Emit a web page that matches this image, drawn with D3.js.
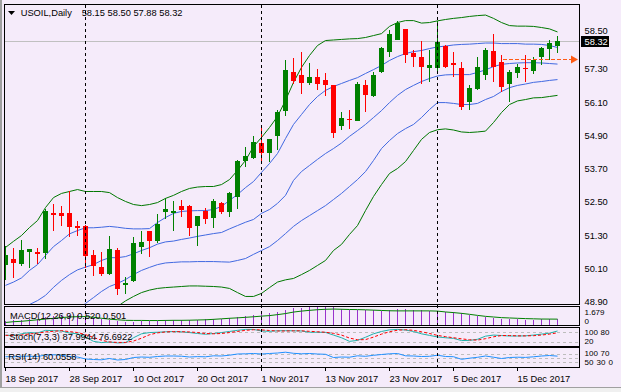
<!DOCTYPE html>
<html><head><meta charset="utf-8">
<script src="https://cdn.jsdelivr.net/npm/d3@7/dist/d3.min.js"></script>
<style>
body{margin:0;background:#fff}
svg{display:block}
text{font-family:"Liberation Sans",Arial,sans-serif;font-size:9.3px;fill:#000}
text.sm{font-size:8px}
</style></head>
<body><svg id="c" width="621" height="392"></svg>
<script>
// ---------- DATA ----------
const symbol = "USOIL,Daily";
const headerOHLC = "58.15 58.50 57.88 58.32";
const open  = [50.21,50.43,50.24,50.69,50.71,50.65,52.12,52.12,52.12,51.62,51.65,50.57,50.14,49.88,50.75,49.50,49.63,50.90,51.44,51.07,52.13,52.13,52.37,52.37,51.62,52.16,51.95,52.48,52.16,52.67,53.97,54.06,54.62,54.26,54.88,55.78,57.21,57.07,56.83,57.03,56.89,56.71,55.24,55.50,55.44,56.71,56.31,57.19,57.91,58.36,58.73,57.87,57.73,57.33,57.33,58.15,57.51,57.35,56.10,56.61,57.10,57.97,57.55,56.79,57.15,57.35,57.25,57.73,58.00,58.15];
const high  = [50.90,50.85,51.14,50.81,50.83,52.26,52.44,52.36,52.88,51.80,51.67,50.75,50.69,51.26,50.85,49.81,51.23,51.47,51.45,52.05,52.65,52.55,52.59,52.40,51.99,52.29,52.62,52.49,52.85,54.00,54.48,54.90,55.26,54.78,55.84,57.63,57.69,57.91,57.51,57.31,57.15,56.74,55.74,55.84,56.83,56.92,57.21,58.11,58.72,59.03,58.75,58.00,58.30,58.00,59.05,58.18,57.91,57.55,56.74,57.75,58.05,58.55,57.79,57.25,57.49,57.79,57.75,58.11,58.36,58.50];
const low   = [49.70,49.76,50.18,50.13,50.27,50.43,51.45,51.65,51.23,51.26,50.10,49.82,49.82,49.86,49.13,49.19,49.61,50.63,50.51,51.01,51.89,51.47,51.95,51.29,50.90,51.69,51.57,52.05,51.95,52.26,53.78,54.04,53.90,53.96,54.39,55.62,56.77,56.41,56.71,56.53,56.31,54.80,55.11,55.12,55.41,55.74,56.29,57.17,57.73,58.34,57.51,57.39,56.77,56.83,57.13,57.33,57.03,55.84,55.83,56.53,56.89,56.83,56.49,56.10,56.97,56.83,57.13,57.43,57.63,57.88];
const close = [50.57,50.29,50.75,50.79,50.65,52.17,52.06,52.02,51.63,51.55,50.58,50.18,49.88,50.79,49.33,49.59,51.01,51.07,51.07,51.69,52.23,52.19,52.24,51.59,51.98,51.87,52.55,52.17,52.84,53.97,54.15,54.65,54.26,54.77,55.74,57.25,56.89,56.79,57.03,56.79,56.71,54.98,55.53,55.45,56.77,56.35,57.07,58.05,58.55,58.96,57.79,57.73,57.37,57.43,58.27,57.39,57.45,55.95,56.62,57.39,58.00,57.39,56.65,57.21,57.37,57.31,57.63,58.05,58.23,58.32];
// Bollinger bands (dev 2 = green, dev 1 = blue) and middle line
const bbUpper2 = [50.86,51.08,51.29,51.58,51.83,52.30,52.66,52.81,52.88,52.95,52.88,52.88,52.88,52.84,52.66,52.52,52.41,52.37,52.41,52.48,52.63,52.74,52.88,52.99,53.04,53.06,53.06,53.13,53.31,53.64,54.00,54.50,54.83,55.19,55.59,56.17,56.82,57.36,57.79,58.15,58.33,58.35,58.37,58.39,58.40,58.44,58.51,58.58,58.84,58.98,59.05,59.05,58.96,58.98,59.04,59.09,59.13,59.16,59.20,59.23,59.25,59.13,58.98,58.87,58.85,58.85,58.84,58.80,58.75,58.64];
const bbUpper1 = [49.49,49.61,49.76,50.03,50.24,50.57,50.89,51.11,51.35,51.47,51.57,51.57,51.59,51.62,51.59,51.55,51.53,51.53,51.54,51.76,51.94,52.09,52.16,52.18,52.19,52.19,52.23,52.34,52.56,52.77,53.02,53.24,53.57,53.89,54.25,54.79,55.30,55.66,56.02,56.31,56.53,56.67,56.78,56.89,56.99,57.14,57.28,57.43,57.61,57.75,57.86,57.93,57.97,58.04,58.10,58.13,58.17,58.19,58.20,58.22,58.24,58.24,58.22,58.22,58.22,58.20,58.20,58.19,58.15,58.08];
const bbMiddle = [48.29,48.47,48.66,48.80,48.94,49.13,49.42,49.67,49.88,50.05,50.15,50.24,50.39,50.49,50.49,50.53,50.63,50.75,50.85,50.98,51.06,51.09,51.15,51.20,51.26,51.31,51.36,51.40,51.53,51.65,51.77,51.87,52.09,52.23,52.45,52.74,53.28,53.60,53.82,54.04,54.25,54.43,54.63,54.87,55.08,55.30,55.55,55.80,56.09,56.35,56.56,56.71,56.85,56.96,57.05,57.09,57.10,57.10,57.10,57.18,57.27,57.39,57.47,57.50,57.52,57.53,57.53,57.52,57.50,57.48];
const bbLower1 = [null,null,null,null,null,null,null,null,null,48.58,48.84,49.05,49.27,49.45,49.56,49.70,49.88,50.03,50.14,50.24,50.30,50.32,50.34,50.34,50.35,50.35,50.35,50.34,50.33,50.39,50.46,50.61,50.75,50.89,51.11,51.36,51.62,51.83,52.01,52.19,52.37,52.59,52.81,53.06,53.31,53.60,54.00,54.43,54.72,54.97,55.15,55.30,55.55,55.84,56.09,56.09,56.06,56.02,56.02,56.06,56.20,56.31,56.49,56.63,56.71,56.76,56.82,56.85,56.89,56.92];
const bbLower2 = [null,null,null,null,null,null,null,null,null,null,null,null,null,null,48.73,48.93,49.09,49.23,49.32,49.38,49.41,49.43,49.45,49.47,49.47,49.46,49.45,49.43,49.38,49.23,49.09,49.09,49.20,49.41,49.61,49.69,49.74,49.88,50.03,50.21,50.39,50.75,50.97,51.33,51.65,52.19,52.70,53.13,53.53,53.71,53.96,54.36,54.76,55.01,55.11,55.14,55.10,55.03,55.01,55.03,55.06,55.37,55.73,56.02,56.15,56.20,56.26,56.27,56.31,56.35];
const priceTicks = [48.90,50.10,51.30,52.50,53.70,54.90,56.10,57.30,58.50];
const lastPrice = 58.32;
const rayPrice = 57.63, rayStartBar = 62;
const separatorBars = [10,32,54];
const dateTickBars = [0,8,16,24,32,40,48,56,64];
const dateTickLabels = ["18 Sep 2017","28 Sep 2017","10 Oct 2017","20 Oct 2017","1 Nov 2017","13 Nov 2017","23 Nov 2017","5 Dec 2017","15 Dec 2017"];
// MACD(12,26,9)
const macdMain   = [0.35,0.39,0.44,0.49,0.53,0.72,0.81,0.85,0.90,0.85,0.76,0.62,0.49,0.39,0.30,0.26,0.26,0.30,0.30,0.35,0.39,0.44,0.44,0.44,0.44,0.49,0.53,0.53,0.58,0.72,0.81,0.90,0.99,1.04,1.13,1.31,1.50,1.54,1.59,1.63,1.679,1.62,1.40,1.36,1.36,1.31,1.31,1.30,1.36,1.45,1.44,1.36,1.31,1.27,1.26,1.17,1.13,1.04,0.85,0.81,0.72,0.62,0.53,0.49,0.49,0.44,0.45,0.49,0.50,0.520];
const macdSignal = [0.19,0.26,0.30,0.37,0.44,0.51,0.58,0.65,0.70,0.73,0.74,0.67,0.58,0.50,0.44,0.39,0.38,0.38,0.37,0.37,0.38,0.39,0.39,0.40,0.42,0.44,0.48,0.53,0.58,0.62,0.67,0.72,0.78,0.83,0.92,1.02,1.16,1.25,1.32,1.38,1.42,1.44,1.42,1.40,1.39,1.37,1.34,1.31,1.28,1.27,1.27,1.27,1.27,1.27,1.25,1.17,1.11,1.04,0.95,0.85,0.76,0.70,0.64,0.61,0.58,0.55,0.53,0.51,0.505,0.501];
const macdLabel = "MACD(12,26,9) 0.520 0.501";
const macdAxis = ["1.679","0"];
// Stochastic(7,3,3)
const stochMain   = [62,58,70,78,75,92,90,88,75,70,50,22,14,18,12,14,45,70,78,80,83,84,83,78,72,67,72,78,85,92,98,98,88,86,89,90,89,88,80,80,79,62,45,22,28,48,70,85,95,98,94,85,70,60,50,45,41,27,28,35,55,62,59,56,56,57,62,68,74,87.9944];
const stochSignal = [60,60,63,69,74,82,86,90,84,78,65,47,29,18,15,15,24,42,64,76,82,84,83,82,78,72,70,72,78,85,92,96,95,91,88,88,89,89,86,83,80,73,62,43,32,33,49,68,83,93,96,92,83,72,60,52,45,38,32,30,39,51,59,59,57,57,58,62,68,76.6922];
const stochLabel = "Stoch(7,3,3) 87.9944 76.6922";
const stochLevels = [20,80];
const stochAxis = ["100","80","20"];
// RSI(14)
const rsiValues = [57.0,56.5,59.2,59.7,58.1,66.2,67.3,65.1,58.1,55.4,44.6,41.9,40.3,47.3,39.2,41.9,52.7,55.4,53.8,58.1,60.8,60.8,59.7,55.4,57.6,56.5,61.9,60.8,65.1,71.6,72.7,74.3,71.6,74.3,77.0,81.4,75.4,72.7,74.3,71.6,70.0,52.7,55.4,54.3,61.9,59.2,64.6,68.9,72.7,74.3,61.9,60.8,58.1,59.2,65.1,58.1,57.0,43.0,48.9,53.8,60.8,54.3,47.3,52.7,54.3,53.2,56.5,60.8,63.5,60.0558];
const rsiLabel = "RSI(14) 60.0558";
const rsiLevels = [30,50,70];
const rsiAxis = ["100","70","50","30","0"];

// ---------- LAYOUT ----------
const W = 621, H = 392;
const L = 5, R = 579;
const svg = d3.select("#c");
const BG = "#F5EBFA";

svg.append("rect").attr("width", W).attr("height", H).attr("fill", BG);

const n = close.length;
const x = d3.scaleLinear().domain([0, n - 1]).range([5, 5 + 8 * (n - 1)]);
const yMain  = d3.scaleLinear().domain([48.80, 59.595]).range([304.5, 5.5]);
const yMacd  = d3.scaleLinear().domain([0, 1.679]).range([324.5, 306.5]);
const yStoch = d3.scaleLinear().domain([0, 100]).range([344.8, 329.1]);
const yRsi   = d3.scaleLinear().domain([0, 100]).range([367.25, 348.75]);

const panels = [
  {id:"main", y0:4, y1:304},
  {id:"macd", y0:306, y1:325},
  {id:"stoch", y0:327, y1:346},
  {id:"rsi", y0:347, y1:367}
];
const defs = svg.append("defs");
panels.forEach(p => {
  defs.append("clipPath").attr("id", "clip-" + p.id)
    .append("rect").attr("x", L).attr("y", p.y0 + 1).attr("width", R - L).attr("height", p.y1 - p.y0 - 1);
});
const gp = {};
panels.forEach(p => { gp[p.id] = svg.append("g").attr("clip-path", "url(#clip-" + p.id + ")"); });

// separators
const sepG = svg.append("g");
separatorBars.forEach(b => {
  sepG.append("line").attr("x1", x(b) + 0.5).attr("x2", x(b) + 0.5).attr("y1", 5).attr("y2", 367)
    .attr("stroke", "#000").attr("stroke-width", 1).attr("stroke-dasharray", "3,3");
});

// ---------- MAIN ----------
const gm = gp.main;
gm.append("line").attr("x1", L).attr("x2", R).attr("y1", Math.round(yMain(lastPrice)) + 0.5).attr("y2", Math.round(yMain(lastPrice)) + 0.5)
  .attr("stroke", "#C0C0C0").attr("stroke-width", 1);

const lineGen = sc => d3.line().defined(d => d != null).x((d, i) => x(i) + 0.5).y(d => sc(d));
[[bbUpper2, "#007800"], [bbLower2, "#007800"], [bbUpper1, "#4169E1"], [bbMiddle, "#4169E1"], [bbLower1, "#4169E1"]].forEach(([arr, c]) => {
  gm.append("path").datum(arr).attr("d", lineGen(yMain)).attr("fill", "none").attr("stroke", c).attr("stroke-width", 1);
});

const cd = d3.range(n).map(i => ({i, o: open[i], h: high[i], l: low[i], c: close[i]}));
const col = d => d.c >= d.o ? "#008000" : "#FF0000";
gm.selectAll("line.wick").data(cd).join("line").attr("class", "wick")
  .attr("x1", d => x(d.i) + 0.5).attr("x2", d => x(d.i) + 0.5)
  .attr("y1", d => yMain(d.h)).attr("y2", d => yMain(d.l))
  .attr("stroke", col).attr("stroke-width", 1).attr("shape-rendering", "crispEdges");
gm.selectAll("rect.body").data(cd).join("rect").attr("class", "body")
  .attr("x", d => x(d.i) - 2).attr("width", 5)
  .attr("y", d => Math.round(yMain(Math.max(d.o, d.c))))
  .attr("height", d => Math.max(1, Math.round(Math.abs(yMain(d.o) - yMain(d.c)))))
  .attr("fill", col).attr("shape-rendering", "crispEdges");

// orange ray
const ry = Math.round(yMain(rayPrice)) - 0.5;
gm.append("line").attr("x1", x(rayStartBar) + 2).attr("x2", 572).attr("y1", ry).attr("y2", ry)
  .attr("stroke", "#FF5A14").attr("stroke-width", 1.2).attr("stroke-dasharray", "4,2");
gm.append("path").attr("d", `M571,${ry - 4}L578,${ry}L571,${ry + 4}Z`).attr("fill", "#FF5A14");

// header
svg.append("path").attr("d", "M8,11L15,11L11.5,15Z").attr("fill", "#000");
svg.append("text").attr("x", 20.7).attr("y", 16).text(symbol);
svg.append("text").attr("x", 81.7).attr("y", 16).text(headerOHLC);

// ---------- MACD ----------
const gmacd = gp.macd;
gmacd.selectAll("line.h").data(macdMain).join("line").attr("class", "h")
  .attr("x1", (d, i) => x(i) + 0.5).attr("x2", (d, i) => x(i) + 0.5)
  .attr("y1", yMacd(0)).attr("y2", d => yMacd(d))
  .attr("stroke", "#9932CC").attr("stroke-width", 1).attr("shape-rendering", "crispEdges");
gmacd.append("path").datum(macdSignal).attr("d", lineGen(yMacd)).attr("fill", "none").attr("stroke", "#008000").attr("stroke-width", 1);
svg.append("text").attr("x", 10).attr("y", 318.5).text(macdLabel);

// ---------- STOCH ----------
const gs = gp.stoch;
stochLevels.forEach(v => gs.append("line").attr("x1", L).attr("x2", R).attr("y1", Math.round(yStoch(v)) + 0.5).attr("y2", Math.round(yStoch(v)) + 0.5)
  .attr("stroke", "#BDBDBD").attr("stroke-dasharray", "3,3"));
gs.append("path").datum(stochMain).attr("d", lineGen(yStoch)).attr("fill", "none").attr("stroke", "#20B2AA").attr("stroke-width", 1);
gs.append("path").datum(stochSignal).attr("d", lineGen(yStoch)).attr("fill", "none").attr("stroke", "#FF0000").attr("stroke-width", 1).attr("stroke-dasharray", "3,2");
svg.append("text").attr("x", 9.3).attr("y", 340).text(stochLabel);

// ---------- RSI ----------
const gr = gp.rsi;
rsiLevels.forEach(v => gr.append("line").attr("x1", L).attr("x2", R).attr("y1", Math.round(yRsi(v)) + 0.5).attr("y2", Math.round(yRsi(v)) + 0.5)
  .attr("stroke", "#BDBDBD").attr("stroke-dasharray", "3,3"));
gr.append("path").datum(rsiValues).attr("d", lineGen(yRsi)).attr("fill", "none").attr("stroke", "#1E90FF").attr("stroke-width", 1);
svg.append("text").attr("x", 8.3).attr("y", 360).text(rsiLabel);

// ---------- FRAMES ----------
panels.forEach(p => {
  svg.append("rect").attr("x", 4.5).attr("y", p.y0 + 0.5).attr("width", R - 4).attr("height", p.y1 - p.y0)
    .attr("fill", "none").attr("stroke", "#000").attr("stroke-width", 1);
});

// ---------- PRICE AXIS ----------
const ax = svg.append("g");
const lp = Math.round(yMain(lastPrice));
priceTicks.forEach(t => {
  let yy = yMain(t) + 3.3;
  // the top tick label sits just above the current-price box
  if (Math.abs(yMain(t) - lp) < 10) yy = lp - 7;
  ax.append("text").attr("x", 584.5).attr("y", yy).text(t.toFixed(2));
});
ax.append("rect").attr("x", 581).attr("y", lp - 5).attr("width", 28).attr("height", 11).attr("fill", "#000");
ax.append("text").attr("x", 584.5).attr("y", lp + 4).style("fill", "#fff").text(lastPrice.toFixed(2));

// sub-window scale labels (compact so they do not collide)
ax.append("text").attr("class", "sm").attr("x", 584.5).attr("y", 315).text(macdAxis[0]);
ax.append("text").attr("class", "sm").attr("x", 584.5).attr("y", 324.3).text(macdAxis[1]);
ax.append("text").attr("class", "sm").attr("x", 584.5).attr("y", 334.8).text(stochAxis[0]);
ax.append("text").attr("class", "sm").attr("x", 600.5).attr("y", 334.8).text(stochAxis[1]);
ax.append("text").attr("class", "sm").attr("x", 584.5).attr("y", 344.3).text(stochAxis[2]);
ax.append("text").attr("class", "sm").attr("x", 584.5).attr("y", 355.5).text(rsiAxis[0]);
ax.append("text").attr("class", "sm").attr("x", 600.5).attr("y", 355.5).text(rsiAxis[1]);
ax.append("text").attr("class", "sm").attr("x", 584.5).attr("y", 365).text(rsiAxis[2]);
ax.append("text").attr("class", "sm").attr("x", 596.5).attr("y", 365).text(rsiAxis[3]);
ax.append("text").attr("class", "sm").attr("x", 608.5).attr("y", 365).text(rsiAxis[4]);

// ---------- TIME AXIS ----------
dateTickBars.forEach((b, k) => {
  svg.append("line").attr("x1", x(b) + 0.5).attr("x2", x(b) + 0.5).attr("y1", 367).attr("y2", 371)
    .attr("stroke", "#000").attr("stroke-width", 1);
  svg.append("text").attr("x", x(b) + 0.5).attr("y", 382.3).text(dateTickLabels[k]);
});

// window edges
svg.append("rect").attr("x", 0).attr("y", 0).attr("width", 2).attr("height", 388).attr("fill", "#A0A0A0");
svg.append("line").attr("x1", 0).attr("x2", W).attr("y1", 387.5).attr("y2", 387.5).attr("stroke", "#A0A0A0");
svg.append("rect").attr("x", 0).attr("y", 388).attr("width", W).attr("height", 4).attr("fill", "#F0F0F0");
</script>
</body></html>
